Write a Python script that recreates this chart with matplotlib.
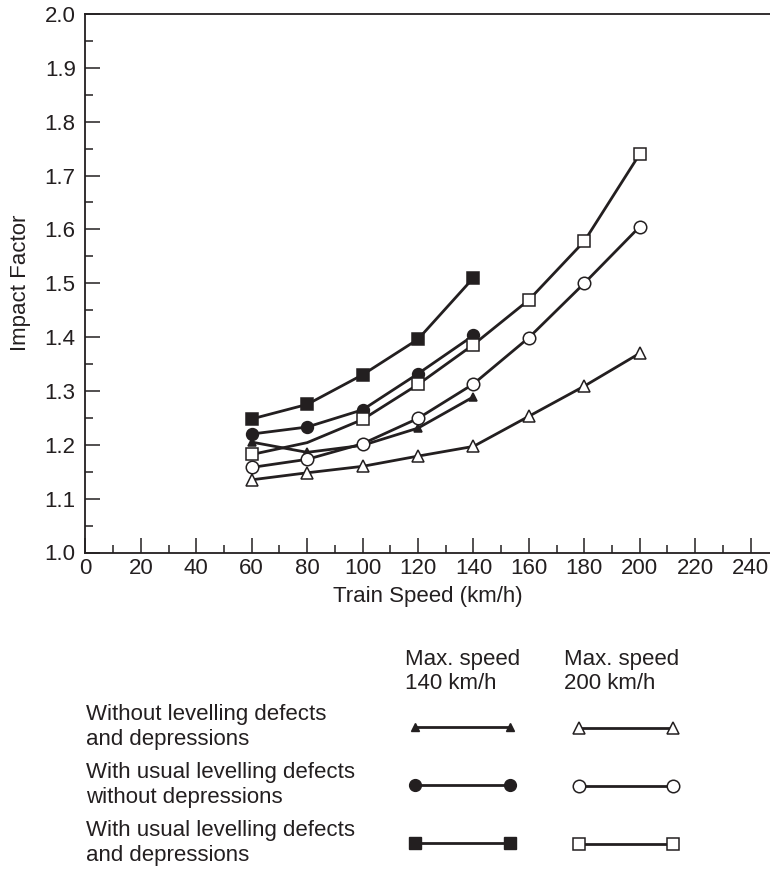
import matplotlib.pyplot as plt
import numpy as np

plt.rcParams['font.family'] = ['Liberation Sans', 'DejaVu Sans']

ink = '#231f20'

speed_140 = [60, 80, 100, 120, 140]
speed_200 = [60, 80, 100, 120, 140, 160, 180, 200]

# max. speed 140 km/h (filled markers)
smooth_140 = [1.205, 1.186, 1.199, 1.231, 1.289]
usual_140 = [1.220, 1.233, 1.265, 1.332, 1.403]
depress_140 = [1.248, 1.275, 1.330, 1.396, 1.510]

# max. speed 200 km/h (open markers)
smooth_200 = [1.135, 1.148, 1.160, 1.179, 1.197, 1.253, 1.309, 1.370]
usual_200 = [1.158, 1.173, 1.202, 1.249, 1.313, 1.399, 1.500, 1.605]
depress_200 = [1.182, 1.204, 1.247, 1.312, 1.386, 1.469, 1.578, 1.740]

row_labels = ["Without levelling defects\nand depressions",
              "With usual levelling defects\nwithout depressions",
              "With usual levelling defects\nand depressions"]
col_labels = ["Max. speed\n140 km/h", "Max. speed\n200 km/h"]

fs = 16
W, H = 770, 881
fig = plt.figure(figsize=(W / 100, H / 100), dpi=100)
ax = fig.add_axes([85.4 / W, 1 - 552.5 / H, 1 - 85.4 / W, 538.5 / H])

series = [
    (speed_140, smooth_140, dict(marker='^', ms=6, mfc=ink), [0, 1, 3, 4]),
    (speed_140, usual_140, dict(marker='o', ms=8.5, mfc=ink), None),
    (speed_140, depress_140, dict(marker='s', ms=8.5, mfc=ink), None),
    (speed_200, smooth_200, dict(marker='^', ms=8, mfc='white'), None),
    (speed_200, usual_200, dict(marker='o', ms=9, mfc='white'), None),
    (speed_200, depress_200, dict(marker='s', ms=8.5, mfc='white'), [0, 2, 3, 4, 5, 6, 7]),
]
for xs, ys, mk, every in series:
    ax.plot(xs, ys, color=ink, lw=2, mec=ink, mew=1.1, markevery=every, **mk)

ax.set_xlim(0, 247)
ax.set_ylim(1.0, 2.0)
ax.set_xticks(np.arange(0, 241, 20))
ax.set_xticks(np.arange(10, 241, 20), minor=True)
ax.set_yticks(np.arange(1.0, 2.01, 0.1))
ax.set_yticks(np.arange(1.05, 2.0, 0.1), minor=True)
ax.set_yticklabels([f"{v:.1f}" for v in np.arange(1.0, 2.01, 0.1)])
ax.tick_params(which='both', direction='in', colors=ink, labelsize=fs, width=1.1)
ax.tick_params(which='major', length=11)
ax.tick_params(which='minor', length=6)
ax.tick_params(axis='y', pad=7)
ax.tick_params(axis='x', pad=4)
ax.spines['right'].set_visible(False)
for s in ['left', 'bottom', 'top']:
    ax.spines[s].set_color(ink)
    ax.spines[s].set_linewidth(1.3)
ax.set_xlabel("Train Speed (km/h)", fontsize=fs, color=ink, labelpad=5)
ax.set_ylabel("Impact Factor", fontsize=fs, color=ink)
ax.yaxis.set_label_coords(-0.08, 0.5)

# key below the chart, laid out in pixel coordinates
key = fig.add_axes([0, 0, 1, 1], facecolor='none')
key.set_xlim(0, W)
key.set_ylim(H, 0)
key.axis('off')

key.text(405, 649, col_labels[0], fontsize=fs, color=ink, va='top', linespacing=1.2)
key.text(564, 649, col_labels[1], fontsize=fs, color=ink, va='top', linespacing=1.2)

row_y = [727, 785, 843]
row_marks = [('^', 6, 8), ('o', 8.5, 9), ('s', 8.5, 8.5)]
for y, label, (m, fsz, osz) in zip(row_y, row_labels, row_marks):
    key.text(86, y, label, fontsize=fs, color=ink, va='center', linespacing=1.2)
    key.plot([415, 510], [y, y], color=ink, lw=2, marker=m, ms=fsz, mfc=ink, mec=ink)
    key.plot([579, 673], [y + 1, y + 1], color=ink, lw=2, marker=m, ms=osz,
             mfc='white', mec=ink, mew=1.1)

fig.savefig('out.png', dpi=100)
